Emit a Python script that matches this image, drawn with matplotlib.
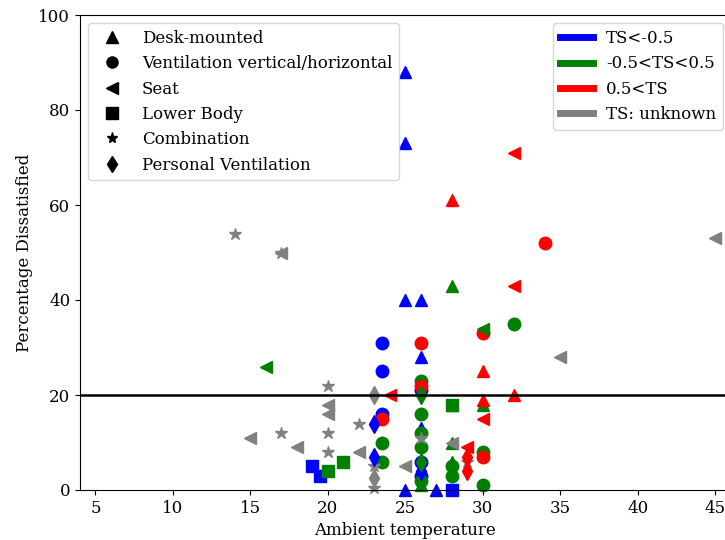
import matplotlib
matplotlib.use('Agg')
import matplotlib.pyplot as plt
from matplotlib.lines import Line2D

plt.rcParams['font.family'] = 'DejaVu Serif'
plt.rcParams['font.size'] = 12

ts_colors = {'cold': '#0000ff', 'neutral': 'green', 'warm': '#ff0000', 'unknown': 'gray'}

# Desk-mounted
desk_x = [25, 25, 25, 26, 26, 26, 25, 27, 26, 28, 28, 28, 28, 26, 30, 28, 30, 30, 32]
desk_y = [88, 73, 40, 40, 28, 13, 0, 0, 4, 43, 18, 10, 6, 1, 18, 61, 25, 19, 20]
desk_ts = ['cold'] * 9 + ['neutral'] * 6 + ['warm'] * 4

# Ventilation vertical/horizontal
vent_x = [23.5, 23.5, 23.5, 26, 26, 26, 26, 26, 26, 26, 23.5, 23.5, 30, 30, 32, 28, 28, 26,
          34, 30, 26, 23.5, 26, 30]
vent_y = [31, 25, 16, 21, 6, 3, 23, 16, 12, 9, 10, 6, 8, 1, 35, 5, 3, 2,
          52, 33, 31, 15, 22, 7]
vent_ts = ['cold'] * 6 + ['neutral'] * 12 + ['warm'] * 6

# Seat
seat_x = [16, 30, 32, 32, 24, 30, 29, 45, 35, 17, 20, 20, 15, 18, 22, 25, 28]
seat_y = [26, 34, 71, 43, 20, 15, 9, 53, 28, 50, 18, 16, 11, 9, 8, 5, 10]
seat_ts = ['neutral'] * 2 + ['warm'] * 5 + ['unknown'] * 10

# Lower Body
lower_x = [19, 19.5, 28, 20, 21, 28]
lower_y = [5, 3, 0, 4, 6, 18]
lower_ts = ['cold'] * 3 + ['neutral'] * 3

# Combination
comb_x = [14, 17, 20, 22, 17, 20, 20, 23, 26, 23, 29]
comb_y = [54, 50, 22, 14, 12, 12, 8, 5, 11, 0.5, 6]
comb_ts = ['unknown'] * 11

# Personal Ventilation
pers_x = [23, 23, 26, 26, 26, 29, 29, 23, 23]
pers_y = [14, 7, 4, 20, 6, 7, 4, 20, 2.5]
pers_ts = ['cold'] * 3 + ['neutral'] * 2 + ['warm'] * 2 + ['unknown'] * 2

groups = [
    ('Desk-mounted', '^', desk_x, desk_y, desk_ts),
    ('Ventilation vertical/horizontal', 'o', vent_x, vent_y, vent_ts),
    ('Seat', '<', seat_x, seat_y, seat_ts),
    ('Lower Body', 's', lower_x, lower_y, lower_ts),
    ('Combination', '*', comb_x, comb_y, comb_ts),
    ('Personal Ventilation', 'd', pers_x, pers_y, pers_ts),
]

fig = plt.figure(figsize=(7.25, 5.4), dpi=100)
ax = fig.add_axes([80 / 725, 50 / 540, 650.5 / 725, 475 / 540])

for name, m, xs, ys, tss in groups:
    for x, y, t in zip(xs, ys, tss):
        ax.plot(x, y, linestyle='none', marker=m, markersize=9,
                color=ts_colors[t], clip_on=False)

ax.axhline(20, color='black', linewidth=1.8)

ax.set_xlim(4, 46)
ax.set_ylim(0, 100)
ax.set_xticks(range(5, 50, 5))
ax.set_yticks(range(0, 101, 20))
ax.set_xlabel('Ambient temperature')
ax.set_ylabel('Percentage Dissatisfied')

marker_handles = [Line2D([], [], linestyle='none', marker=m, color='black', markersize=8)
                  for _, m, _, _, _ in groups]
leg1 = ax.legend(marker_handles, [g[0] for g in groups], loc='upper left')
ax.add_artist(leg1)

color_labels = ['TS<-0.5', '-0.5<TS<0.5', '0.5<TS', 'TS: unknown']
color_handles = [Line2D([], [], color=ts_colors[k], linewidth=5)
                 for k in ['cold', 'neutral', 'warm', 'unknown']]
ax.legend(color_handles, color_labels, loc='upper right',
          bbox_to_anchor=(731.3 / 725, 525 / 540), bbox_transform=fig.transFigure,
          handlelength=2.0)

fig.savefig('out.png', dpi=100)
